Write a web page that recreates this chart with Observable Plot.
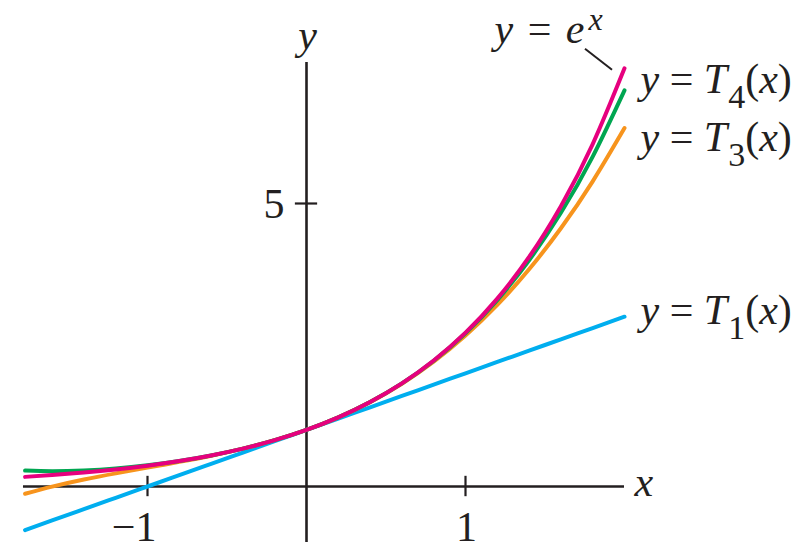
<!DOCTYPE html>
<html>
<head>
<meta charset="utf-8">
<script src="https://cdn.jsdelivr.net/npm/d3@7"></script>
<script src="https://cdn.jsdelivr.net/npm/@observablehq/plot@0.6"></script>
<style>
  html, body { margin: 0; padding: 0; background: #fff; }
  #chart svg { display: block; }
</style>
</head>
<body>
<div id="chart"></div>
<script>
// ---- data ----
const xValues   = [-1.77, -1.6, -1.4, -1.2, -1.0, -0.8, -0.6, -0.4, -0.2, 0, 0.2, 0.4, 0.6, 0.8, 1.0, 1.2, 1.4, 1.6, 1.8, 2.0];
const expValues = [0.170, 0.202, 0.247, 0.301, 0.368, 0.449, 0.549, 0.670, 0.819, 1.000, 1.221, 1.492, 1.822, 2.226, 2.718, 3.320, 4.055, 4.953, 6.050, 7.389];
const t4Values  = [0.281, 0.270, 0.283, 0.318, 0.375, 0.452, 0.549, 0.670, 0.819, 1.000, 1.221, 1.492, 1.821, 2.222, 2.708, 3.294, 3.997, 4.836, 5.829, 7.000];
const t3Values  = [-0.128, -0.003, 0.123, 0.232, 0.333, 0.435, 0.544, 0.669, 0.819, 1.000, 1.221, 1.491, 1.816, 2.205, 2.667, 3.208, 3.837, 4.563, 5.392, 6.333];
const t1Values  = [-0.77, -0.6, -0.4, -0.2, 0.0, 0.2, 0.4, 0.6, 0.8, 1.0, 1.2, 1.4, 1.6, 1.8, 2.0, 2.2, 2.4, 2.6, 2.8, 3.0];

const seriesNames  = ["T1", "T3", "T4", "exp"];
const seriesLabels = ["y = T_1(x)", "y = T_3(x)", "y = T_4(x)", "y = e^x"];
const xTicks = [-1, 1];
const xTickLabels = ["−1", "1"];
const yTicks = [5];
const yTickLabels = ["5"];
const axisLabels = ["x", "y"];

// ---- styling / layout (not data) ----
const seriesValues = { T1: t1Values, T3: t3Values, T4: t4Values, exp: expValues };
const seriesColors = { T1: "#00aeef", T3: "#f7941d", T4: "#00a651", exp: "#e6007e" };
const labelOffsets = { T1: [16, 7], T3: [16, 22.5], T4: [16, 3], exp: [-130, -25] };
const ink = "#231f20";
const font = '"Liberation Serif", "Times New Roman", serif';
const xAxisExtent = [-1.78, 2.0];
const yAxisExtent = [-0.99, 7.49];

const rows = seriesNames.flatMap(name =>
  xValues.map((x, i) => ({ series: name, x, y: seriesValues[name][i] })));
const ends = seriesNames.map((name, k) => ({
  series: name, x: xValues[xValues.length - 1],
  y: seriesValues[name][xValues.length - 1], label: seriesLabels[k]
}));
const xTickRows = xTicks.map((t, i) => ({ t, label: xTickLabels[i] }));

const plot = Plot.plot({
  width: 802,
  height: 557,
  x: { domain: [0, 1], range: [306, 465], axis: null },
  y: { domain: [0, 5], range: [486, 203], axis: null },
  style: { fontFamily: font, background: "#fff", color: ink },
  marks: [
    // axes through the origin
    Plot.ruleY([0], { x1: xAxisExtent[0], x2: xAxisExtent[1], stroke: ink, strokeWidth: 2.6 }),
    Plot.ruleX([0], { y1: yAxisExtent[0], y2: yAxisExtent[1], stroke: ink, strokeWidth: 2.6 }),
    // crossing tick marks
    Plot.ruleX(xTicks, { x: d => d, y1: -0.18, y2: 0.18, stroke: ink, strokeWidth: 2.2 }),
    Plot.ruleY(yTicks, { y: d => d, x1: -0.07, x2: 0.07, stroke: ink, strokeWidth: 2.2 }),
    // tick labels
    Plot.text(xTickRows.filter(d => d.t < 0), { x: "t", y: 0, text: "label", textAnchor: "end", dx: 9, dy: 54,
      lineAnchor: "bottom", fontSize: 42, fill: ink }),
    Plot.text(xTickRows.filter(d => d.t > 0), { x: "t", y: 0, text: "label", textAnchor: "middle", dx: 1, dy: 54,
      lineAnchor: "bottom", fontSize: 42, fill: ink }),
    Plot.text(yTicks, { x: 0, y: d => d, text: (d, i) => yTickLabels[i], textAnchor: "end", dx: -22, dy: 14,
      lineAnchor: "bottom", fontSize: 42, fill: ink }),
    // axis names
    Plot.text([axisLabels[0]], { x: xAxisExtent[1], y: 0, text: d => d, textAnchor: "start", dx: 10, dy: 9,
      lineAnchor: "bottom", fontSize: 42, fontStyle: "italic", fill: ink }),
    Plot.text([axisLabels[1]], { x: 0, y: yAxisExtent[1], text: d => d, textAnchor: "middle", dx: 1, dy: -14,
      lineAnchor: "bottom", fontSize: 42, fontStyle: "italic", fill: ink }),
    // curves
    Plot.line(rows, { x: "x", y: "y", z: "series", stroke: d => seriesColors[d.series], curve: "natural",
      strokeWidth: 4, strokeLinecap: "round", strokeLinejoin: "round" }),
    // curve labels
    ...ends.map(e => Plot.text([e], { x: "x", y: "y", text: "label", textAnchor: "start",
      dx: labelOffsets[e.series][0], dy: labelOffsets[e.series][1],
      lineAnchor: "bottom", fontSize: 42, fill: ink }))
  ]
});

// rich text: italic letters, sub/superscripts
function richify(el, markup) {
  const ns = "http://www.w3.org/2000/svg";
  while (el.firstChild) el.removeChild(el.firstChild);
  el.style.whiteSpace = "pre";
  let pending = 0;
  for (let i = 0; i < markup.length; i++) {
    let ch = markup[i], size = null, shift = 0, dx = 0;
    if (ch === "_" || ch === "^") {
      const sub = ch === "_";
      ch = markup[++i];
      size = sub ? 34 : 32;
      shift = sub ? 15 : -13;
      dx = sub ? 1 : 2;
    }
    const t = document.createElementNS(ns, "tspan");
    t.textContent = ch;
    if (/[a-zA-Z]/.test(ch)) t.setAttribute("font-style", "italic");
    if (size) t.setAttribute("font-size", size);
    const dy = shift - pending;
    if (dy) t.setAttribute("dy", dy);
    if (dx) t.setAttribute("dx", dx);
    pending = shift;
    el.appendChild(t);
  }
  if (markup.includes("^")) el.style.letterSpacing = "2px";
}
plot.querySelectorAll("text").forEach(el => {
  const s = el.textContent;
  if (seriesLabels.includes(s)) richify(el, s);
});

// leader line from the e^x label to the end of its curve
const sx = plot.scale("x"), sy = plot.scale("y");
const px = sx.apply(xValues[xValues.length - 1]);
const py = sy.apply(expValues[expValues.length - 1]);
d3.select(plot).append("line")
  .attr("x1", px - 39).attr("y1", py - 19)
  .attr("x2", px - 12).attr("y2", py + 2)
  .attr("stroke", ink).attr("stroke-width", 2);

document.getElementById("chart").appendChild(plot);
</script>
</body>
</html>
